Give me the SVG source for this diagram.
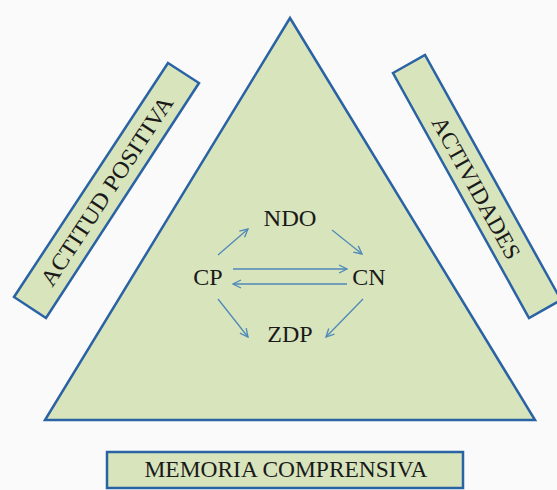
<svg xmlns="http://www.w3.org/2000/svg" width="557" height="490" viewBox="0 0 557 490">
<style>
.shape{fill:#d8e4bc;stroke:#2a63a4;stroke-width:2.5;stroke-linejoin:miter}
.lbl{font-family:"Liberation Serif","DejaVu Serif",serif;fill:#1a1a1a;text-anchor:middle}
.con{stroke:#4f89b8;stroke-width:1.3;fill:none;marker-end:url(#ah)}
</style>
<defs>
<marker id="ah" viewBox="0 0 10 10" refX="9" refY="5" markerWidth="10" markerHeight="10" markerUnits="userSpaceOnUse" orient="auto">
<path d="M1,1 L9,5 L1,9" fill="none" stroke="#4f89b8" stroke-width="1.3"/>
</marker>
</defs>
<rect width="557" height="490" fill="#fafafa"/>
<g id="triangle">
<polygon class="shape" points="290,18 535,420 45,420"/>
</g>
<g id="actitud">
<polygon class="shape" points="168,63 199,83 46,318 14,297"/>
<text class="lbl" font-size="23" transform="translate(107,191) rotate(-56.7)" y="7.5" textLength="222" lengthAdjust="spacingAndGlyphs">ACTITUD POSITIVA</text>
</g>
<g id="actividades">
<polygon class="shape" points="393,73 425,55 561,300 529,318"/>
<text class="lbl" font-size="23" transform="translate(476,188) rotate(61)" y="7.5" textLength="159" lengthAdjust="spacingAndGlyphs">ACTIVIDADES</text>
</g>
<g id="memoria">
<rect class="shape" x="107" y="452" width="356" height="36"/>
<text class="lbl" font-size="23" x="286" y="477" textLength="283" lengthAdjust="spacingAndGlyphs">MEMORIA COMPRENSIVA</text>
</g>
<g id="ndo"><text class="lbl" font-size="24" x="290" y="226" textLength="53" lengthAdjust="spacingAndGlyphs">NDO</text></g>
<g id="cp"><text class="lbl" font-size="24" x="208" y="285">CP</text></g>
<g id="cn"><text class="lbl" font-size="24" x="369" y="285">CN</text></g>
<g id="zdp"><text class="lbl" font-size="24" x="290" y="342">ZDP</text></g>
<g id="connectors">
<line class="con" x1="218" y1="255" x2="248" y2="229"/>
<line class="con" x1="332" y1="230" x2="362" y2="254"/>
<line class="con" x1="233" y1="269" x2="347" y2="269"/>
<line class="con" x1="347" y1="284" x2="233" y2="284"/>
<line class="con" x1="218" y1="299" x2="248" y2="337"/>
<line class="con" x1="363" y1="299" x2="326" y2="337"/>
</g>
</svg>
